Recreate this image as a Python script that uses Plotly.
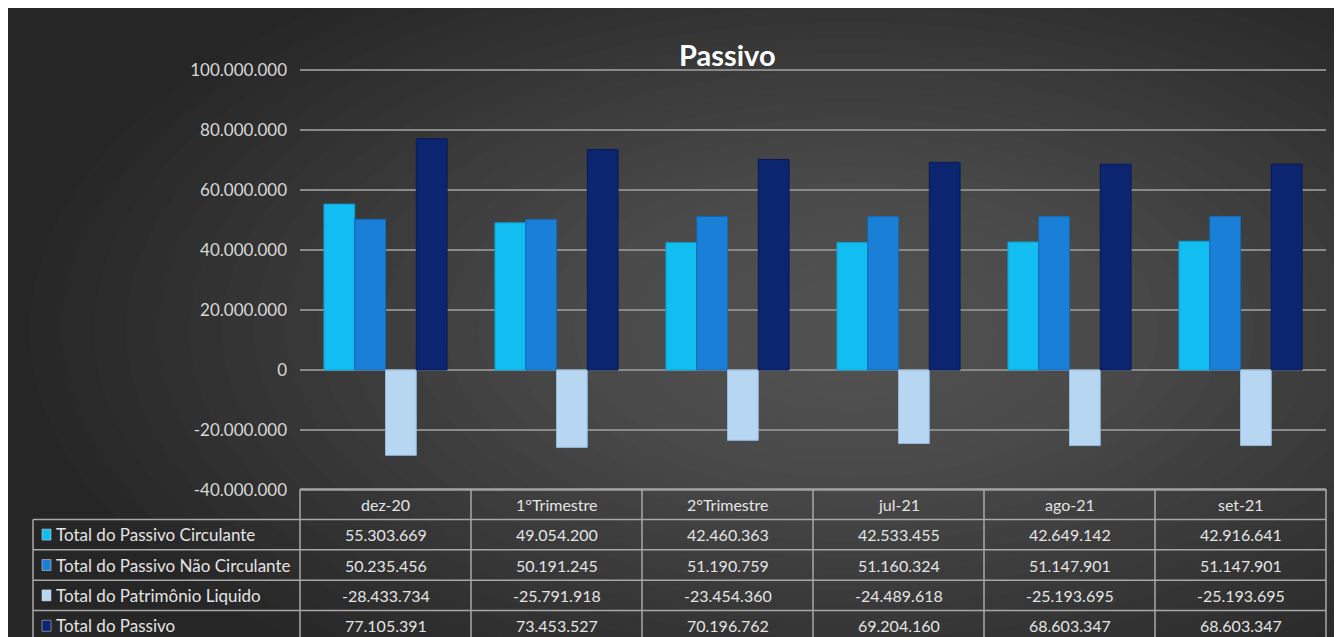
import plotly.graph_objects as go

categories = ["dez-20", "1°Trimestre", "2°Trimestre", "jul-21", "ago-21", "set-21"]
series_names = [
    "Total do Passivo Circulante",
    "Total do Passivo Não Circulante",
    "Total do Patrimônio Liquido",
    "Total do Passivo",
]
circulante = [55303669, 49054200, 42460363, 42533455, 42649142, 42916641]
nao_circulante = [50235456, 50191245, 51190759, 51160324, 51147901, 51147901]
patrimonio = [-28433734, -25791918, -23454360, -24489618, -25193695, -25193695]
total_passivo = [77105391, 73453527, 70196762, 69204160, 68603347, 68603347]
y_ticks = [-40000000, -20000000, 0, 20000000, 40000000, 60000000, 80000000, 100000000]

series_values = [circulante, nao_circulante, patrimonio, total_passivo]
colors = ["#12bdf2", "#1a7fd6", "#b6d6f2", "#0b2570"]
edge_colors = ["#0a9fd0", "#1468b4", "#93b8dc", "#071a55"]

W, H = 1342, 637
OFF = 8  # page margin: screenshot pixel = figure pixel + 8
# plot area (figure pixels); a little padding above/below so edge gridlines show
L, R, T, B = 300 - OFF, 1326 - OFF, 64 - OFF, 493 - OFF
Y_RANGE = [-41000000, 102000000]
FONT = "Lato"
TXT = "#e4e4e4"
GRID = "#8a8a8a"
TABLE_LINE = "#a8a8a8"


def fmt(v):
    # brazilian style thousand separator
    return f"{v:,}".replace(",", ".")


# helpers take screenshot pixel positions
def px(x):
    return (x - OFF - L) / (R - L)


def py(y):
    return (B - (y - OFF)) / (B - T)


fig = go.Figure()

for name, vals, c, ec in zip(series_names, series_values, colors, edge_colors):
    fig.add_trace(go.Bar(
        x=categories, y=vals, name=name,
        marker=dict(color=c, line=dict(color=ec, width=1)),
    ))

shapes = []

# soft radial glow over the dark background
cx, cy = 850, 330
n_glow = 24
for k in range(n_glow):
    rx = 820 - k * 32
    ry = 420 - k * 16
    shapes.append(dict(type="circle", xref="paper", yref="paper", layer="below",
                       x0=px(cx - rx), x1=px(cx + rx), y0=py(cy - ry), y1=py(cy + ry),
                       fillcolor="#8a8884", opacity=0.027, line=dict(width=0)))

# data table under the chart
n_rows = len(series_names)
row_h = 30.4
top = 489
tab_left = 33
row_lines = [top + row_h * (i + 1) for i in range(n_rows)]
bottom = top + row_h * (n_rows + 1)
line = dict(color=TABLE_LINE, width=1.5)
shapes.append(dict(type="line", xref="paper", yref="paper",
                   x0=0, x1=1, y0=py(top), y1=py(top), line=line))
for yl in row_lines:
    shapes.append(dict(type="line", xref="paper", yref="paper",
                       x0=px(tab_left), x1=1, y0=py(yl), y1=py(yl), line=line))
shapes.append(dict(type="line", xref="paper", yref="paper",
                   x0=px(tab_left), x1=px(tab_left), y0=py(row_lines[0]), y1=py(bottom), line=line))
for i in range(len(categories) + 1):
    xv = i / len(categories)
    shapes.append(dict(type="line", xref="paper", yref="paper",
                       x0=xv, x1=xv, y0=py(top), y1=py(bottom), line=line))

annotations = [dict(text="<b>Passivo</b>", xref="paper", yref="paper",
                    x=px(727), y=py(55), xanchor="center", yanchor="middle", showarrow=False,
                    font=dict(family=FONT, size=29, color="white"))]

for c in categories:
    annotations.append(dict(text=c, xref="x", yref="paper", x=c, y=py(top + row_h / 2),
                            yanchor="middle", showarrow=False,
                            font=dict(family=FONT, size=16, color=TXT)))

for r, (name, vals, col) in enumerate(zip(series_names, series_values, colors)):
    yc = top + row_h * (r + 1.5)
    shapes.append(dict(type="rect", xref="paper", yref="paper",
                       x0=px(42), x1=px(51), y0=py(yc - 5.5), y1=py(yc + 5.5),
                       fillcolor=col, line=dict(color="#dddddd", width=0.5)))
    annotations.append(dict(text=name, xref="paper", yref="paper", x=px(54), y=py(yc),
                            xanchor="left", yanchor="middle", showarrow=False,
                            font=dict(family=FONT, size=17, color=TXT)))
    for c, v in zip(categories, vals):
        annotations.append(dict(text=fmt(v), xref="x", yref="paper", x=c, y=py(yc),
                                yanchor="middle", showarrow=False,
                                font=dict(family=FONT, size=16, color=TXT)))

fig.update_layout(
    width=W, height=H,
    margin=dict(l=L, r=W - R, t=T, b=H - B, pad=0),
    paper_bgcolor="#262626",
    plot_bgcolor="rgba(0,0,0,0)",
    barmode="group",
    bargap=0.28,
    bargroupgap=0,
    showlegend=False,
    font=dict(family=FONT, color=TXT),
    xaxis=dict(showticklabels=False, showgrid=False, zeroline=False, showline=False,
               fixedrange=True),
    yaxis=dict(range=Y_RANGE, tickvals=y_ticks,
               ticktext=[fmt(v) for v in y_ticks],
               tickfont=dict(family=FONT, size=17, color="#d8d8d8"),
               showgrid=True, gridcolor=GRID, gridwidth=2,
               zeroline=True, zerolinecolor=GRID, zerolinewidth=2,
               showline=False, ticks="", ticklabelstandoff=12),
    shapes=shapes,
    annotations=annotations,
)

fig.write_html("out.html")
